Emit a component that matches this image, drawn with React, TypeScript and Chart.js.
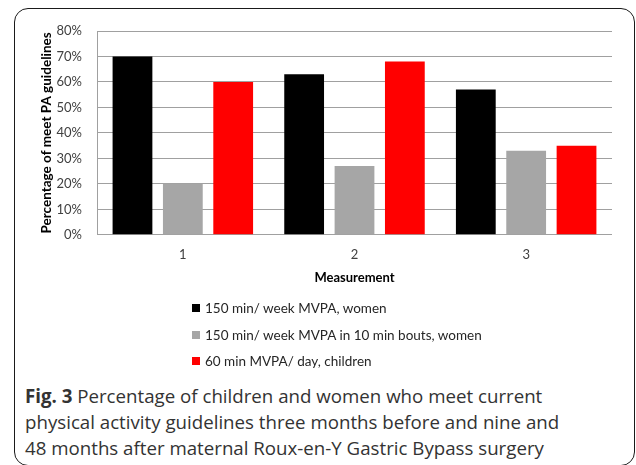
import React, { useEffect, useRef } from "react";
import { Chart, registerables } from "chart.js";

Chart.register(...registerables);

const categories = ["1", "2", "3"];
const seriesNames = [
  "150 min/ week MVPA, women",
  "150 min/ week MVPA in 10 min bouts, women",
  "60 min MVPA/ day, children",
];
const womenMVPA = [70, 63, 57];
const womenBouts = [20, 27, 33];
const childrenMVPA = [60, 68, 35];
const seriesColors = ["#000000", "#a6a6a6", "#ff0000"];
const yTitle = "Percentage of meet PA guidelines";
const xTitle = "Measurement";
const captionBold = "Fig. 3";
const captionLines = [
  " Percentage of children and women who meet current",
  "physical activity guidelines three months before and nine and",
  "48 months after maternal Roux-en-Y Gastric Bypass surgery",
];

export default function App() {
  const canvasRef = useRef<HTMLCanvasElement | null>(null);

  useEffect(() => {
    document.body.style.margin = "0";
    const ctx = canvasRef.current!;
    const values = [womenMVPA, womenBouts, childrenMVPA];
    const chart = new Chart(ctx, {
      type: "bar",
      data: {
        labels: categories,
        datasets: values.map((v, i) => ({
          label: seriesNames[i],
          data: v,
          backgroundColor: seriesColors[i],
          borderWidth: 0,
          categoryPercentage: 0.88,
          barPercentage: 0.79,
        })),
      },
      options: {
        responsive: false,
        animation: false,
        devicePixelRatio: 1,
        layout: { padding: { left: 36, right: 24, top: 31, bottom: 14 } },
        plugins: {
          legend: { display: false },
          tooltip: { enabled: false },
        },
        scales: {
          x: {
            grid: { display: false, drawTicks: false },
            border: { display: false },
            ticks: {
              color: "#404040",
              padding: 12,
              font: { family: "Lato", size: 13 },
            },
            title: {
              display: true,
              text: xTitle,
              color: "#000000",
              padding: { top: -4, bottom: 0 },
              font: { family: "Lato", size: 13, weight: "bold" },
            },
          },
          y: {
            min: 0,
            max: 80,
            afterFit: (scale: any) => {
              scale.width = 61;
            },
            grid: { color: "#a0a0a0", lineWidth: 1, drawTicks: false },
            border: { display: true, color: "#a0a0a0", width: 1 },
            ticks: {
              stepSize: 10,
              padding: 15,
              color: "#404040",
              font: { family: "Lato", size: 13 },
              callback: (v: any) => v + "%",
            },
            title: {
              display: true,
              text: yTitle,
              color: "#000000",
              padding: { top: 3, bottom: 4 },
              font: { family: "Lato", size: 13.5, weight: "bold" },
            },
          },
        },
      },
    });
    return () => chart.destroy();
  }, []);

  return (
    <div
      style={{
        position: "fixed",
        left: 0,
        top: 0,
        width: 636,
        height: 465,
        background: "#ffffff",
        overflow: "hidden",
      }}
    >
      <div
        style={{
          position: "absolute",
          left: 14,
          top: 8,
          width: 621,
          height: 458,
          boxSizing: "border-box",
          border: "1.5px solid #1a1a1a",
          borderRadius: 14,
        }}
      />
      <canvas
        ref={canvasRef}
        width={636}
        height={300}
        style={{ position: "absolute", left: 0, top: 0, width: 636, height: 300 }}
      />
      <div
        style={{
          position: "absolute",
          left: 190,
          top: 295,
          fontFamily: "Lato",
          fontSize: 13.5,
          color: "#262626",
        }}
      >
        {seriesNames.map((n, i) => (
          <div
            key={n}
            style={{ display: "flex", alignItems: "center", height: 26.5, whiteSpace: "nowrap" }}
          >
            <span
              style={{
                display: "inline-block",
                width: 8,
                height: 8,
                background: seriesColors[i],
                marginRight: 5,
                marginLeft: 2,
              }}
            />
            {n}
          </div>
        ))}
      </div>
      <div
        style={{
          position: "absolute",
          left: 25,
          top: 383,
          fontFamily: "'Open Sans'",
          fontSize: 18.7,
          lineHeight: "26px",
          color: "#333333",
          whiteSpace: "nowrap",
        }}
      >
        {captionLines.map((l, i) => (
          <div key={i}>
            {i === 0 && <b>{captionBold}</b>}
            {l}
          </div>
        ))}
      </div>
    </div>
  );
}
